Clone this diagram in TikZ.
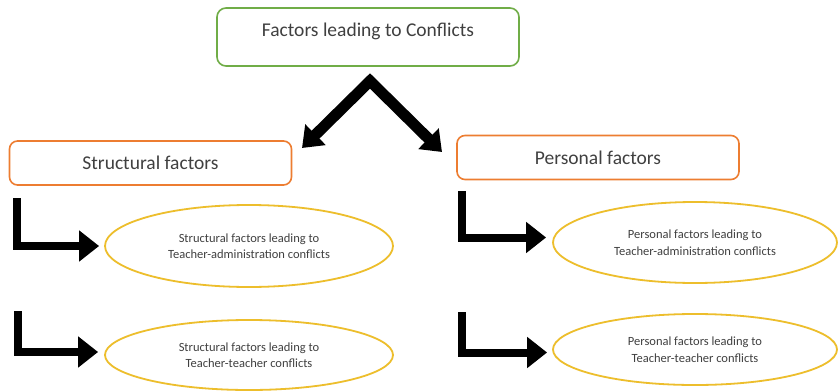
\documentclass[tikz,border=0pt]{standalone}
\usepackage{fontspec}
\setmainfont{Carlito}
\usetikzlibrary{shapes.geometric,arrows.meta}
\definecolor{boxgreen}{HTML}{70AD47}
\definecolor{boxorange}{HTML}{ED7D31}
\definecolor{ellgold}{HTML}{EDBE2C}
\definecolor{txt}{HTML}{404040}
\tikzset{
  topbox/.style={draw=boxgreen, line width=1.6pt, rounded corners=9pt, minimum width=302pt, minimum height=58pt, text=txt, font=\fontsize{19.5}{22}\selectfont},
  factbox/.style={draw=boxorange, line width=1.6pt, rounded corners=8pt, minimum width=282pt, minimum height=44pt, text=txt, font=\fontsize{19.5}{22}\selectfont},
  oval/.style={ellipse, draw=ellgold, line width=1.8pt, text=txt, align=center, inner sep=0pt, font=\fontsize{12.5}{16.5}\selectfont},
  bigarrow/.style={line width=11pt, line join=miter, {Triangle[length=19pt,width=28pt]}-{Triangle[length=19pt,width=28pt]}},
  elbow/.style={line width=8pt, line join=miter, -{Triangle[length=20pt,width=30pt]}}
}
\begin{document}
\begin{tikzpicture}[x=1pt, y=-1pt]
\useasboundingbox (0,0) rectangle (838,391);
\fill[white] (0,0) rectangle (838,391);
% top box
\node[topbox] (top) at (368,37) {};
\node[text=txt, font=\fontsize{19.5}{22}\selectfont] (toptext) at (368,31) {Factors leading to Conflicts};
% factor boxes
\node[factbox] (struct) at (150.5,163) {Structural factors};
\node[factbox] (pers) at (598,157.5) {Personal factors};
% chevron
\coordinate (apex) at (370,81);
\coordinate (tipL) at (302,148);
\coordinate (tipR) at (442,152);
\draw[bigarrow] (tipL) -- (apex) -- (tipR);
% ellipses
\node[oval, minimum width=288pt, minimum height=82pt] (e1) at (249,246) {Structural factors leading to\\Teacher-administration conflicts};
\node[oval, minimum width=288pt, minimum height=70pt] (e2) at (249,355) {Structural factors leading to\\Teacher-teacher conflicts};
\node[oval, minimum width=284pt, minimum height=81pt] (e3) at (695,242.5) {Personal factors leading to\\Teacher-administration conflicts};
\node[oval, minimum width=284pt, minimum height=71pt] (e4) at (695,349.5) {Personal factors leading to\\Teacher-teacher conflicts};
% elbow arrows
\coordinate (s1) at (17,198);
\coordinate (s2) at (18,311);
\coordinate (s3) at (462,191);
\coordinate (s4) at (462,312);
\draw[elbow, shorten >=5pt] (s1) |- (e1.west);
\draw[elbow, shorten >=6pt] (s2) |- ([yshift=3pt]e2.west);
\draw[elbow, shorten >=6pt] (s3) |- ([yshift=5pt]e3.west);
\draw[elbow, shorten >=5pt] (s4) |- ([yshift=-3pt]e4.west);
\end{tikzpicture}
\end{document}
